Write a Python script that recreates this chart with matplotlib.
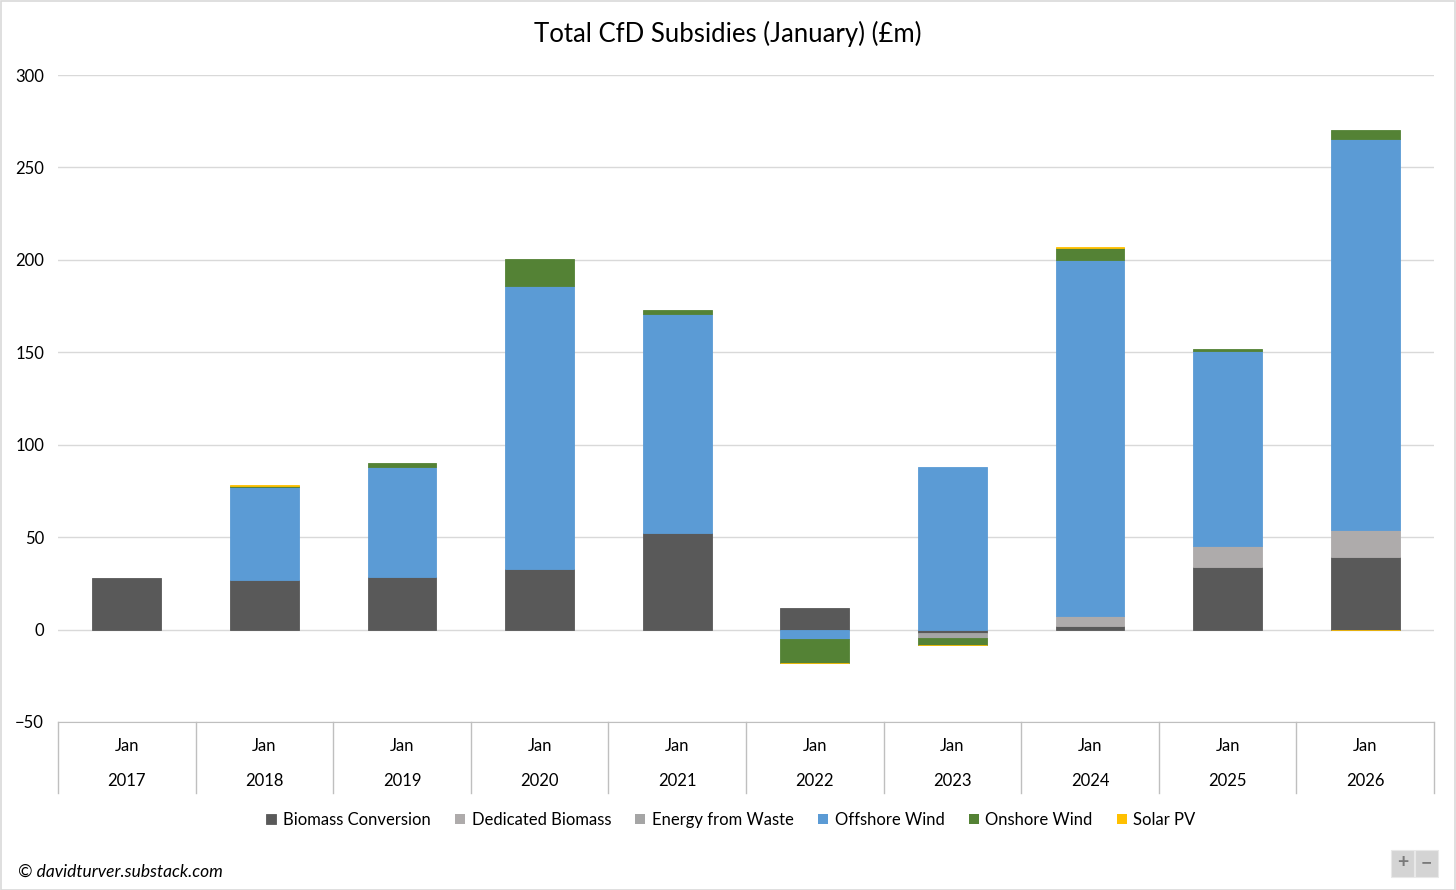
import numpy as np
import matplotlib.pyplot as plt
from matplotlib.patches import Rectangle

plt.rcParams['font.family'] = ['Lato', 'DejaVu Sans']

years = ['2017', '2018', '2019', '2020', '2021', '2022', '2023', '2024', '2025', '2026']
months = ['Jan'] * 10

# £m per technology
biomass_conv = [28.1, 27.0, 28.6, 33.0, 52.4, 11.4, -1.7, 2.2, 34.0, 39.5]
dedicated_bio = [0, 0, 0, 0, 0, 0, 0, 4.9, 11.4, 14.5]
energy_waste = [0, 0, 0, 0, 0, 0, -2.7, 0, 0, 0]
offshore = [0, 50.3, 59.5, 153.0, 118.4, -4.9, 88.1, 192.6, 105.4, 211.4]
onshore = [0, 0.3, 2.2, 14.5, 2.2, -13.0, -3.8, 6.5, 1.1, 4.9]
solar = [0, 0.5, 0, 0, 0, -0.4, -0.4, 0.6, 0, -0.4]

series = [
    ('Biomass Conversion', biomass_conv, '#595959'),
    ('Dedicated Biomass', dedicated_bio, '#AEABAB'),
    ('Energy from Waste', energy_waste, '#A5A5A5'),
    ('Offshore Wind', offshore, '#5B9BD5'),
    ('Onshore Wind', onshore, '#548235'),
    ('Solar PV', solar, '#FFC000'),
]

W, H = 1456, 890
fig = plt.figure(figsize=(W / 100, H / 100), dpi=100)
fig.patches.append(Rectangle((0.5 / W, 0.5 / H), 1 - 1.5 / W, 1 - 1.5 / H,
                             transform=fig.transFigure, fill=False,
                             edgecolor='#d9d9d9', linewidth=1.2))

ax = fig.add_axes([58 / W, (H - 722) / H, 1376 / W, (722 - 75) / H])
x = np.arange(len(years))
pos_bottom = np.zeros(len(years))
neg_bottom = np.zeros(len(years))
for name, vals, col in series:
    v = np.array(vals, dtype=float)
    bottom = np.where(v >= 0, pos_bottom, neg_bottom)
    # thin edge only on non-empty segments so slivers stay visible
    lw = [0.6 if val != 0 else 0 for val in v]
    ax.bar(x, v, 0.5, bottom=bottom, color=col, label=name, zorder=3,
           edgecolor=col, linewidth=lw)
    pos_bottom += np.where(v >= 0, v, 0)
    neg_bottom += np.where(v < 0, v, 0)

ax.set_xlim(-0.5, len(years) - 0.5)
ax.set_ylim(-50, 300)
ax.set_yticks(range(-50, 301, 50))
ax.yaxis.grid(True, color='#d9d9d9', linewidth=1, zorder=0)
for s in ['left', 'right', 'top']:
    ax.spines[s].set_visible(False)
ax.spines['bottom'].set_color('#bfbfbf')
ax.tick_params(axis='y', length=0, labelsize=12, pad=10)
ax.tick_params(axis='x', length=0)
ax.set_xticks([])

# two-level category axis
tr = ax.get_xaxis_transform()
for b in np.arange(-0.5, len(years), 1.0):
    ax.plot([b, b], [0, -71 / 647], color='#bfbfbf', linewidth=1,
            transform=tr, clip_on=False)
for i in x:
    ax.text(i, -24 / 647, months[i], transform=tr, ha='center', va='center',
            fontsize=12)
    ax.text(i, -59 / 647, years[i], transform=tr, ha='center', va='center',
            fontsize=12)

fig.text(0.5, 1 - 34 / H, 'Total CfD Subsidies (January) (£m)', ha='center',
         va='center', fontsize=18.5)

handles, labels = ax.get_legend_handles_labels()
fig.legend(handles, labels, loc='center', bbox_to_anchor=(731 / W, 1 - 820 / H),
           ncol=6, frameon=False, fontsize=12, handlelength=0.6,
           handleheight=0.6, handletextpad=0.4, columnspacing=1.45)

fig.text(18 / W, 1 - 872 / H, '© davidturver.substack.com', ha='left',
         va='center', fontsize=12.5, style='italic')

# zoom buttons in the corner
for bx, sym in [(1391, '+'), (1415, '−')]:
    fig.patches.append(Rectangle((bx / W, 1 - 877 / H), 23 / W, 27 / H,
                                 transform=fig.transFigure, facecolor='#d4d4d4',
                                 edgecolor='#e8e8e8', linewidth=0.8))
    fig.text((bx + 11.5) / W, 1 - 863 / H, sym, ha='center', va='center',
             fontsize=14, color='#7a7a7a', fontweight='bold')

fig.savefig('out.png', dpi=100)
